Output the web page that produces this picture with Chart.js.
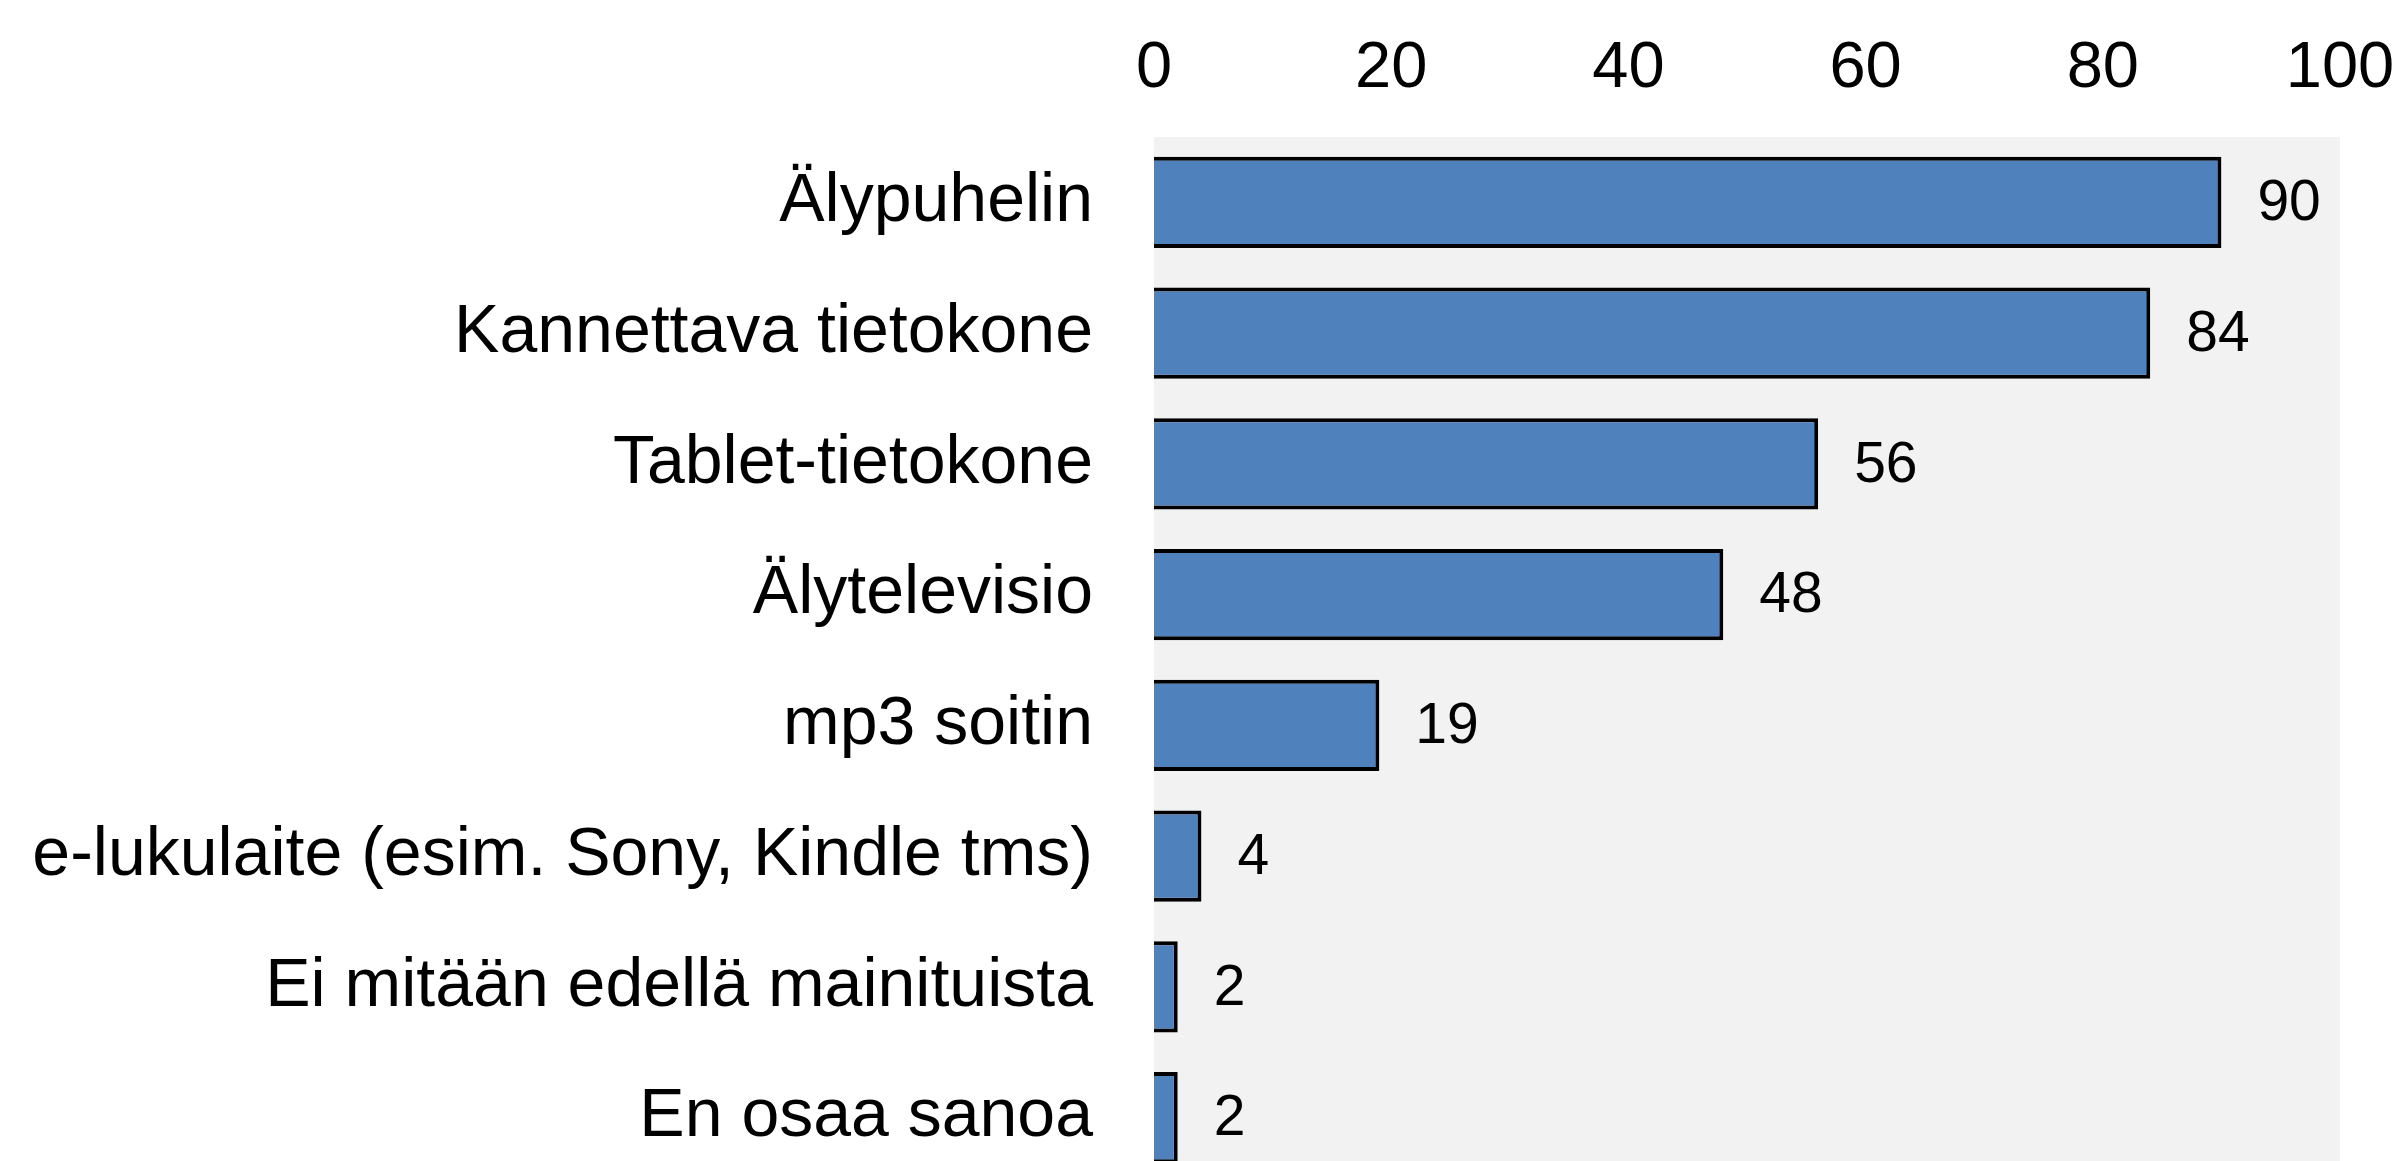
<!DOCTYPE html>
<html>
<head>
<meta charset="utf-8">
<title>Laitteet</title>
<script src="https://cdn.jsdelivr.net/npm/chart.js@4/dist/chart.umd.min.js"></script>
<style>
  html, body { margin: 0; padding: 0; background: #fff; overflow: hidden; }
  canvas { display: block; }
</style>
</head>
<body>
<canvas id="chart" width="2407" height="1190"></canvas>
<script>
const categories = [
  'Älypuhelin',
  'Kannettava tietokone',
  'Tablet-tietokone',
  'Älytelevisio',
  'mp3 soitin',
  'e-lukulaite (esim. Sony, Kindle tms)',
  'Ei mitään edellä mainituista',
  'En osaa sanoa'
];
const values = [90, 84, 56, 48, 19, 4, 2, 2];
const xTicks = [0, 20, 40, 60, 80, 100];

const FONT = '"Liberation Sans", Arial, sans-serif';

// grey plot background behind the bars
const plotBg = {
  id: 'plotBg',
  beforeDatasetsDraw(chart) {
    const { ctx, chartArea: a } = chart;
    ctx.save();
    ctx.fillStyle = '#f2f2f2';
    ctx.fillRect(a.left, a.top, a.right - a.left, a.bottom - a.top);
    ctx.restore();
  }
};

// value labels right of each bar
const valueLabels = {
  id: 'valueLabels',
  afterDatasetsDraw(chart) {
    const { ctx } = chart;
    const meta = chart.getDatasetMeta(0);
    ctx.save();
    ctx.font = '57px ' + FONT;
    ctx.fillStyle = '#000';
    ctx.textAlign = 'left';
    ctx.textBaseline = 'middle';
    meta.data.forEach((bar, i) => {
      ctx.fillText(String(values[i]), bar.x + 36, bar.y + 2);
    });
    ctx.restore();
  }
};

// drop the extra padding chart.js reserves for edge labels
function noEdgePadding(scale) {
  scale.paddingTop = 0;
  scale.paddingBottom = 0;
  scale.paddingLeft = 0;
  scale.paddingRight = 0;
}

new Chart(document.getElementById('chart'), {
  type: 'bar',
  data: {
    labels: categories,
    datasets: [{
      data: values,
      backgroundColor: '#4f81bd',
      borderColor: '#000',
      borderWidth: 4,
      categoryPercentage: 1,
      barPercentage: 0.696
    }]
  },
  options: {
    indexAxis: 'y',
    responsive: false,
    animation: false,
    devicePixelRatio: 1,
    layout: { padding: { left: 0, right: 67, top: 0, bottom: 7 } },
    plugins: {
      legend: { display: false },
      tooltip: { enabled: false }
    },
    scales: {
      x: {
        position: 'top',
        min: 0,
        max: 100,
        afterBuildTicks(scale) {
          scale.ticks = xTicks.map(v => ({ value: v }));
        },
        afterFit(scale) {
          scale.height = 137;
          noEdgePadding(scale);
        },
        grid: { display: false, drawTicks: false },
        border: { display: false },
        ticks: {
          padding: 29,
          color: '#000',
          font: { family: FONT, size: 65 }
        }
      },
      y: {
        afterFit(scale) {
          scale.width = 1154;
          noEdgePadding(scale);
        },
        grid: { display: false, drawTicks: false },
        border: { display: false },
        ticks: {
          padding: 61,
          color: '#000',
          font: { family: FONT, size: 68 }
        }
      }
    }
  },
  plugins: [plotBg, valueLabels]
});
</script>
</body>
</html>
